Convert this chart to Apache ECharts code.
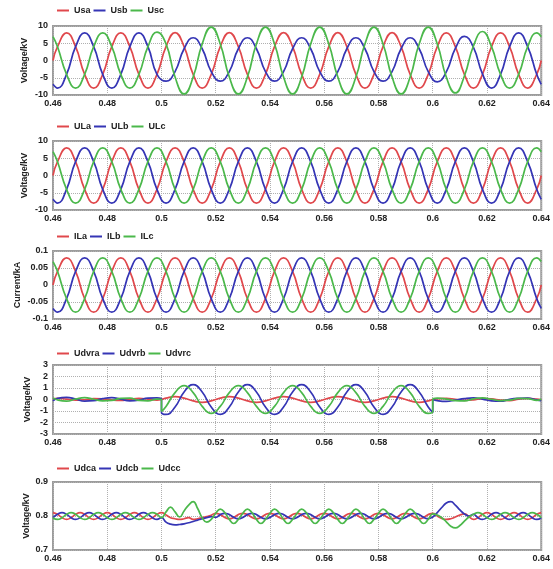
<!DOCTYPE html>
<html>
<head>
<meta charset="utf-8">
<script src="https://cdn.jsdelivr.net/npm/echarts@6/dist/echarts.min.js"></script>
<style>
  html, body { margin: 0; padding: 0; background: #fff; }
  #chart { width: 553px; height: 569px; }
</style>
</head>
<body>
<div id="chart"></div>
<script>
// time base for the AC panels (s)
const tAC = [0.46,
  0.46167, 0.465, 0.46833, 0.47167, 0.475, 0.47833,
  0.48167, 0.485, 0.48833, 0.49167, 0.495, 0.49833,
  0.50167, 0.505, 0.50833, 0.51167, 0.515, 0.51833,
  0.52167, 0.525, 0.52833, 0.53167, 0.535, 0.53833,
  0.54167, 0.545, 0.54833, 0.55167, 0.555, 0.55833,
  0.56167, 0.565, 0.56833, 0.57167, 0.575, 0.57833,
  0.58167, 0.585, 0.58833, 0.59167, 0.595, 0.59833,
  0.60167, 0.605, 0.60833, 0.61167, 0.615, 0.61833,
  0.62167, 0.625, 0.62833, 0.63167, 0.635, 0.63833,
  0.64];

// source voltage (kV)
const usa = [0,
  4, 8, 4, -4, -8, -4,
  4, 8, 4, -4, -8, -4,
  4, 8.1, 4, -4, -8, -4,
  4, 8.1, 4, -4, -8, -4,
  4, 8.1, 4, -4, -8, -4,
  4, 8.1, 4, -4, -8, -4,
  4, 8.1, 4, -4, -8, -4,
  4, 8, 4, -4, -8, -4,
  4, 8, 4, -4, -8, -4,
  0];
const usb = [-6.9,
  -8, -4, 4, 8, 4, -4,
  -8, -4, 4, 8, 4, -4,
  -6, -3.2, 3.4, 6.6, 3.4, -3.2,
  -6, -3.2, 3.4, 6.6, 3.4, -3.2,
  -6, -3.2, 3.4, 6.6, 3.4, -3.2,
  -6, -3.2, 3.4, 6.6, 3.4, -3.2,
  -6, -3.2, 3.4, 6.6, 3.4, -3.2,
  -6.2, -3.3, 3.5, 7, 3.8, -3.9,
  -8, -4, 4, 8, 4, -4,
  -6.9];
const usc = [6.9,
  4, -4, -8, -4, 4, 8,
  4, -4, -8, -4, 4, 8.2,
  4.8, -4.8, -9.7, -4.8, 4.8, 9.7,
  4.8, -4.8, -9.7, -4.8, 4.8, 9.7,
  4.8, -4.8, -9.7, -4.8, 4.8, 9.7,
  4.8, -4.8, -9.7, -4.8, 4.8, 9.7,
  4.8, -4.8, -9.7, -4.8, 4.8, 9.7,
  4.8, -4.8, -9.4, -4.5, 4.2, 8.4,
  4, -4, -8, -4, 4, 8,
  6.9];

// load voltage (kV)
const ula = [0,
  4, 8, 4, -4, -8, -4,
  4, 8, 4, -4, -8, -4,
  4, 8, 4, -4, -8, -4,
  4, 8, 4, -4, -8, -4,
  4, 8, 4, -4, -8, -4,
  4, 8, 4, -4, -8, -4,
  4, 8, 4, -4, -8, -4,
  4, 8, 4, -4, -8, -4,
  4, 8, 4, -4, -8, -4,
  0];
const ulb = [-6.9,
  -8, -4, 4, 8, 4, -4,
  -8, -4, 4, 8, 4, -4,
  -8, -4, 4, 8, 4, -4,
  -8, -4, 4, 8, 4, -4,
  -8, -4, 4, 8, 4, -4,
  -8, -4, 4, 8, 4, -4,
  -8, -4, 4, 8, 4, -4,
  -8, -4, 4, 8, 4, -4,
  -8, -4, 4, 8, 4, -4,
  -6.9];
const ulc = [6.9,
  4, -4, -8, -4, 4, 8,
  4, -4, -8, -4, 4, 8,
  4, -4, -8, -4, 4, 8,
  4, -4, -8, -4, 4, 8,
  4, -4, -8, -4, 4, 8,
  4, -4, -8, -4, 4, 8,
  4, -4, -8, -4, 4, 8,
  4, -4, -8, -4, 4, 8,
  4, -4, -8, -4, 4, 8,
  6.9];

// load current (kA)
const ila = [0,
  0.04, 0.08, 0.04, -0.04, -0.08, -0.04,
  0.04, 0.08, 0.04, -0.04, -0.08, -0.04,
  0.04, 0.08, 0.04, -0.04, -0.08, -0.04,
  0.04, 0.08, 0.04, -0.04, -0.08, -0.04,
  0.04, 0.08, 0.04, -0.04, -0.08, -0.04,
  0.04, 0.08, 0.04, -0.04, -0.08, -0.04,
  0.04, 0.08, 0.04, -0.04, -0.08, -0.04,
  0.04, 0.08, 0.04, -0.04, -0.08, -0.04,
  0.04, 0.08, 0.04, -0.04, -0.08, -0.04,
  0];
const ilb = [-0.069,
  -0.08, -0.04, 0.04, 0.08, 0.04, -0.04,
  -0.08, -0.04, 0.04, 0.08, 0.04, -0.04,
  -0.08, -0.04, 0.04, 0.08, 0.04, -0.04,
  -0.08, -0.04, 0.04, 0.08, 0.04, -0.04,
  -0.08, -0.04, 0.04, 0.08, 0.04, -0.04,
  -0.08, -0.04, 0.04, 0.08, 0.04, -0.04,
  -0.08, -0.04, 0.04, 0.08, 0.04, -0.04,
  -0.08, -0.04, 0.04, 0.08, 0.04, -0.04,
  -0.08, -0.04, 0.04, 0.08, 0.04, -0.04,
  -0.069];
const ilc = [0.069,
  0.04, -0.04, -0.08, -0.04, 0.04, 0.08,
  0.04, -0.04, -0.08, -0.04, 0.04, 0.08,
  0.04, -0.04, -0.08, -0.04, 0.04, 0.08,
  0.04, -0.04, -0.08, -0.04, 0.04, 0.08,
  0.04, -0.04, -0.08, -0.04, 0.04, 0.08,
  0.04, -0.04, -0.08, -0.04, 0.04, 0.08,
  0.04, -0.04, -0.08, -0.04, 0.04, 0.08,
  0.04, -0.04, -0.08, -0.04, 0.04, 0.08,
  0.04, -0.04, -0.08, -0.04, 0.04, 0.08,
  0.069];

// DVR injected voltage (kV), jumps at 0.5 and 0.6
const tDvr = [0.46, 0.46167, 0.465, 0.46833, 0.47167, 0.475, 0.47833,
  0.48167, 0.485, 0.48833, 0.49167, 0.495, 0.49833, 0.5,
  0.5, 0.50167, 0.505, 0.50833, 0.51167, 0.515, 0.51833,
  0.52167, 0.525, 0.52833, 0.53167, 0.535, 0.53833,
  0.54167, 0.545, 0.54833, 0.55167, 0.555, 0.55833,
  0.56167, 0.565, 0.56833, 0.57167, 0.575, 0.57833,
  0.58167, 0.585, 0.58833, 0.59167, 0.595, 0.59833, 0.6,
  0.6, 0.60167, 0.605, 0.60833, 0.61167, 0.615, 0.61833,
  0.62167, 0.625, 0.62833, 0.63167, 0.635, 0.63833, 0.64];
const udvra = [0.05, 0.1, 0.03, -0.06, -0.02, 0.08, 0.06,
  -0.04, -0.08, 0.02, 0.09, 0.04, -0.05, 0,
  0, 0.12, 0.25, 0.12, -0.12, -0.25, -0.12,
  0.12, 0.25, 0.12, -0.12, -0.25, -0.12,
  0.12, 0.25, 0.12, -0.12, -0.25, -0.12,
  0.12, 0.25, 0.12, -0.12, -0.25, -0.12,
  0.12, 0.25, 0.12, -0.12, -0.25, -0.12, 0,
  0, 0.06, 0.1, 0.02, -0.07, -0.03, 0.08,
  0.05, -0.05, -0.09, 0.02, 0.1, 0.03, -0.04];
const udvrb = [-0.12, 0.1, 0.18, 0.04, -0.14, -0.1, 0.08,
  0.16, 0.02, -0.12, -0.06, 0.12, 0.14, 0.02,
  -1.13, -1.3, -0.65, 0.65, 1.3, 0.65, -0.65,
  -1.3, -0.65, 0.65, 1.3, 0.65, -0.65,
  -1.3, -0.65, 0.65, 1.3, 0.65, -0.65,
  -1.3, -0.65, 0.65, 1.3, 0.65, -0.65,
  -1.3, -0.65, 0.65, 1.3, 0.65, -0.65, -1.13,
  0, -0.1, -0.16, -0.05, 0.08, 0.14, 0.04,
  -0.12, -0.15, 0.02, 0.1, 0.12, -0.04, -0.1];
const udvrc = [0.14, -0.04, -0.14, 0.04, 0.16, 0.02, -0.12,
  -0.08, 0.1, 0.12, -0.08, -0.12, 0.04, 0,
  -1.04, -0.6, 0.6, 1.2, 0.6, -0.6, -1.2,
  -0.6, 0.6, 1.2, 0.6, -0.6, -1.2,
  -0.6, 0.6, 1.2, 0.6, -0.6, -1.2,
  -0.6, 0.6, 1.2, 0.6, -0.6, -1.2,
  -0.6, 0.6, 1.2, 0.6, -0.6, -1.2, -1.04,
  0, 0.12, 0.04, -0.1, -0.12, 0.06, 0.14,
  0.02, -0.1, -0.06, 0.1, 0.08, -0.08, 0.04];

// DC link voltage (kV)
const tDc = [
  0.46, 0.46167, 0.46333, 0.465, 0.46667, 0.46833,
  0.47, 0.47167, 0.47333, 0.475, 0.47667, 0.47833,
  0.48, 0.48167, 0.48333, 0.485, 0.48667, 0.48833,
  0.49, 0.49167, 0.49333, 0.495, 0.49667, 0.49833,
  0.5, 0.50167, 0.50333, 0.505, 0.50667, 0.50833,
  0.51, 0.51167, 0.51333, 0.515, 0.51667, 0.51833,
  0.52, 0.52167, 0.52333, 0.525, 0.52667, 0.52833,
  0.53, 0.53167, 0.53333, 0.535, 0.53667, 0.53833,
  0.54, 0.54167, 0.54333, 0.545, 0.54667, 0.54833,
  0.55, 0.55167, 0.55333, 0.555, 0.55667, 0.55833,
  0.56, 0.56167, 0.56333, 0.565, 0.56667, 0.56833,
  0.57, 0.57167, 0.57333, 0.575, 0.57667, 0.57833,
  0.58, 0.58167, 0.58333, 0.585, 0.58667, 0.58833,
  0.59, 0.59167, 0.59333, 0.595, 0.59667, 0.59833,
  0.6, 0.60167, 0.60333, 0.605, 0.60667, 0.60833,
  0.61, 0.61167, 0.61333, 0.615, 0.61667, 0.61833,
  0.62, 0.62167, 0.62333, 0.625, 0.62667, 0.62833,
  0.63, 0.63167, 0.63333, 0.635, 0.63667, 0.63833,
  0.64];
const udca = [
  0.81, 0.805, 0.795, 0.79, 0.795, 0.805,
  0.81, 0.805, 0.795, 0.79, 0.795, 0.805,
  0.81, 0.805, 0.795, 0.79, 0.795, 0.805,
  0.81, 0.805, 0.795, 0.79, 0.795, 0.805,
  0.81, 0.803, 0.795, 0.792, 0.79, 0.792,
  0.795, 0.79, 0.792, 0.795, 0.798, 0.802,
  0.808, 0.804, 0.796, 0.792, 0.796, 0.804,
  0.808, 0.804, 0.796, 0.792, 0.796, 0.804,
  0.808, 0.804, 0.796, 0.792, 0.796, 0.804,
  0.808, 0.804, 0.796, 0.792, 0.796, 0.804,
  0.808, 0.804, 0.796, 0.792, 0.796, 0.804,
  0.808, 0.804, 0.796, 0.792, 0.796, 0.804,
  0.808, 0.804, 0.796, 0.792, 0.796, 0.804,
  0.808, 0.804, 0.796, 0.792, 0.796, 0.804,
  0.808, 0.8, 0.793, 0.79, 0.792, 0.797,
  0.803, 0.806, 0.798, 0.79, 0.795, 0.805,
  0.81, 0.805, 0.795, 0.79, 0.795, 0.805,
  0.81, 0.805, 0.795, 0.79, 0.795, 0.805,
  0.81];
const udcb = [
  0.795, 0.805, 0.81, 0.805, 0.795, 0.79,
  0.795, 0.805, 0.81, 0.805, 0.795, 0.79,
  0.795, 0.805, 0.81, 0.805, 0.795, 0.79,
  0.795, 0.805, 0.81, 0.805, 0.795, 0.79,
  0.795, 0.782, 0.776, 0.774, 0.775, 0.777,
  0.78, 0.784, 0.788, 0.792, 0.795, 0.798,
  0.796, 0.804, 0.808, 0.804, 0.796, 0.792,
  0.796, 0.804, 0.808, 0.804, 0.796, 0.792,
  0.796, 0.804, 0.808, 0.804, 0.796, 0.792,
  0.796, 0.804, 0.808, 0.804, 0.796, 0.792,
  0.796, 0.804, 0.808, 0.804, 0.796, 0.792,
  0.796, 0.804, 0.808, 0.804, 0.796, 0.792,
  0.796, 0.804, 0.808, 0.804, 0.796, 0.792,
  0.796, 0.804, 0.808, 0.804, 0.796, 0.792,
  0.797, 0.81, 0.825, 0.838, 0.842, 0.832,
  0.818, 0.806, 0.8, 0.805, 0.795, 0.79,
  0.795, 0.805, 0.81, 0.805, 0.795, 0.79,
  0.795, 0.805, 0.81, 0.805, 0.795, 0.79,
  0.795];
const udcc = [
  0.795, 0.79, 0.795, 0.805, 0.81, 0.805,
  0.795, 0.79, 0.795, 0.805, 0.81, 0.805,
  0.795, 0.79, 0.795, 0.805, 0.81, 0.805,
  0.795, 0.79, 0.795, 0.805, 0.81, 0.805,
  0.795, 0.812, 0.826, 0.812, 0.797, 0.815,
  0.832, 0.842, 0.822, 0.795, 0.782, 0.79,
  0.808, 0.82, 0.81, 0.79, 0.778, 0.79,
  0.808, 0.82, 0.81, 0.79, 0.778, 0.79,
  0.808, 0.82, 0.81, 0.79, 0.778, 0.79,
  0.808, 0.82, 0.81, 0.79, 0.778, 0.79,
  0.808, 0.82, 0.81, 0.79, 0.778, 0.79,
  0.808, 0.82, 0.81, 0.79, 0.778, 0.79,
  0.808, 0.82, 0.81, 0.79, 0.778, 0.79,
  0.808, 0.82, 0.81, 0.79, 0.778, 0.79,
  0.806, 0.803, 0.795, 0.783, 0.77, 0.765,
  0.772, 0.785, 0.797, 0.805, 0.81, 0.805,
  0.795, 0.79, 0.795, 0.805, 0.81, 0.805,
  0.795, 0.79, 0.795, 0.805, 0.81, 0.805,
  0.795];

const COLORS = ['#e0484c', '#3535b5', '#4bb84b'];
const FONT = 'Liberation Sans';

const panels = [
  {names: ['Usa', 'Usb', 'Usc'], t: tAC, data: [usa, usb, usc], yName: 'Voltage/kV', gap: 24, min: -10, max: 10, step: 5, top: 26, h: 69, legendTop: 1},
  {names: ['ULa', 'ULb', 'ULc'], t: tAC, data: [ula, ulb, ulc], yName: 'Voltage/kV', gap: 24, min: -10, max: 10, step: 5, top: 141, h: 69, legendTop: 117},
  {names: ['ILa', 'ILb', 'ILc'], t: tAC, data: [ila, ilb, ilc], yName: 'Current/kA', gap: 31, min: -0.1, max: 0.1, step: 0.05, top: 251, h: 68, legendTop: 227},
  {names: ['Udvra', 'Udvrb', 'Udvrc'], t: tDvr, data: [udvra, udvrb, udvrc], yName: 'Voltage/kV', gap: 21, min: -3, max: 3, step: 1, top: 365, h: 69, legendTop: 344},
  {names: ['Udca', 'Udcb', 'Udcc'], t: tDc, data: [udca, udcb, udcc], yName: 'Voltage/kV', gap: 22, min: 0.7, max: 0.9, step: 0.1, top: 482, h: 68, legendTop: 459}
];

const labelStyle = {color: '#222', fontSize: 9, fontWeight: 'bold', fontFamily: FONT};
const dotted = {show: true, lineStyle: {color: '#b0b0b0', type: 'dotted', width: 1}};

const grid = [], xAxis = [], yAxis = [], legend = [], series = [];
panels.forEach(function(p, i) {
  grid.push({left: 53, right: 11, top: p.top, height: p.h, show: true,
    borderColor: '#9c9c9c', borderWidth: 2, backgroundColor: '#fff'});
  xAxis.push({type: 'value', gridIndex: i, min: 0.46, max: 0.64, interval: 0.02,
    axisLine: {show: false}, axisTick: {show: false},
    axisLabel: Object.assign({margin: 4}, labelStyle), splitLine: dotted});
  yAxis.push({type: 'value', gridIndex: i, min: p.min, max: p.max, interval: p.step,
    name: p.yName, nameLocation: 'middle', nameGap: p.gap, nameMoveOverlap: false,
    nameTextStyle: labelStyle,
    axisLine: {show: false}, axisTick: {show: false},
    axisLabel: Object.assign({margin: 5}, labelStyle), splitLine: dotted});
  legend.push({data: p.names, left: 52, top: p.legendTop, icon: 'rect',
    itemWidth: 12, itemHeight: 2, itemGap: 3, textStyle: labelStyle});
  p.names.forEach(function(name, j) {
    series.push({
      name: name, type: 'line', xAxisIndex: i, yAxisIndex: i,
      smooth: 0.5, symbol: 'none', animation: false,
      lineStyle: {width: 1.7, color: COLORS[j]}, itemStyle: {color: COLORS[j]},
      data: p.t.map(function(t, k) { return [t, p.data[j][k]]; })
    });
  });
});

const myChart = echarts.init(document.getElementById('chart'));
myChart.setOption({animation: false, grid: grid, xAxis: xAxis, yAxis: yAxis, legend: legend, series: series});
</script>
</body>
</html>
